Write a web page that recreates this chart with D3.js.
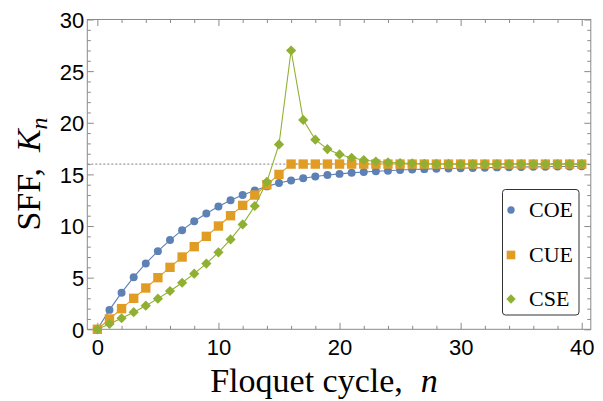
<!DOCTYPE html>
<html>
<head>
<meta charset="utf-8">
<script src="https://cdn.jsdelivr.net/npm/d3@7"></script>
<style>
  html, body { margin: 0; padding: 0; background: #fff; }
  svg { display: block; }
</style>
</head>
<body>
<svg id="chart" width="603" height="401"></svg>
<script>
// Spectral form factor K_n versus Floquet cycle n for the three circular ensembles
const cycles = d3.range(0, 41);

const coe = [0, 1.88, 3.55, 5.05, 6.38, 7.57, 8.64, 9.60, 10.46, 11.22, 11.89,
  12.49, 13.01, 13.45, 13.84, 14.16, 14.42, 14.63, 14.80, 14.94, 15.05,
  15.15, 15.23, 15.31, 15.36, 15.42, 15.47, 15.51, 15.54, 15.57, 15.60,
  15.63, 15.65, 15.68, 15.70, 15.71, 15.73, 15.74, 15.76, 15.77, 15.78];

const cue = [0, 1, 2, 3, 4, 5, 6, 7, 8, 9, 10,
  11, 12, 13, 14, 15, 16, 16, 16, 16, 16,
  16, 16, 16, 16, 16, 16, 16, 16, 16, 16,
  16, 16, 16, 16, 16, 16, 16, 16, 16, 16];

const cse = [0, 0.52, 1.07, 1.66, 2.29, 2.97, 3.71, 4.51, 5.39, 6.36, 7.45,
  8.70, 10.16, 11.94, 14.28, 17.90, 27.0, 20.28, 18.36, 17.45, 16.93,
  16.61, 16.39, 16.25, 16.16, 16.10, 16.06, 16.03, 16.01, 16.01, 16.00,
  16.00, 16.00, 16.00, 16.00, 16.00, 16.00, 16.00, 16.00, 16.00, 16.00];

const plateau = 16;

const seriesNames = ["COE", "CUE", "CSE"];
const seriesColors = ["#5E81B5", "#E19C24", "#8FB032"];
const seriesShapes = ["circle", "square", "diamond"];

const xTicks = [0, 10, 20, 30, 40];
const yTicks = [0, 5, 10, 15, 20, 25, 30];

const svg = d3.select("#chart");
const frame = { left: 87.3, right: 590.8, top: 19.5, bottom: 329.3 };

const x = d3.scaleLinear().domain([-0.83, 40.75]).range([frame.left, frame.right]);
const y = d3.scaleLinear().domain([0, 30]).range([frame.bottom, frame.top]);

const frameColor = "#8a8a8a";

// plateau reference line
svg.append("line")
  .attr("x1", frame.left).attr("x2", frame.right)
  .attr("y1", y(plateau)).attr("y2", y(plateau))
  .attr("stroke", "#9a9a9a").attr("stroke-width", 1.2)
  .attr("stroke-dasharray", "2,2");

// frame axes with inward ticks on all four sides
function frameAxis(axisFn, scale, majors, minors, transform, hideLabels) {
  const g = svg.append("g").attr("transform", transform);
  g.call(axisFn(scale).tickValues(minors).tickSize(3.5).tickFormat(""));
  g.select(".domain").remove();
  g.selectAll(".tick line").attr("stroke", frameColor);
  const g2 = svg.append("g").attr("transform", transform);
  g2.call(axisFn(scale).tickValues(majors).tickSize(6.5).tickPadding(0)
    .tickFormat(hideLabels ? "" : d3.format("d")));
  g2.select(".domain").remove();
  g2.selectAll(".tick line").attr("stroke", frameColor);
  return g2;
}

const xMinor = d3.range(0, 41, 2).filter(v => v % 10 !== 0);
const yMinor = d3.range(0, 31, 1).filter(v => v % 5 !== 0);

// bottom: ticks point up into the plot
const axisBottomG = frameAxis(s => d3.axisTop(s), x, xTicks, xMinor,
  `translate(0,${frame.bottom})`, false);
axisBottomG.selectAll(".tick text")
  .attr("y", 0).attr("dy", 0)
  .attr("transform", "translate(0,26)");
frameAxis(s => d3.axisBottom(s), x, xTicks, xMinor,
  `translate(0,${frame.top})`, true);
const axisLeftG = frameAxis(s => d3.axisRight(s), y, yTicks, yMinor,
  `translate(${frame.left},0)`, false);
axisLeftG.selectAll(".tick text")
  .attr("x", -3).attr("dy", "0.36em")
  .attr("text-anchor", "end");
frameAxis(s => d3.axisLeft(s), y, yTicks, yMinor,
  `translate(${frame.right},0)`, true);

svg.selectAll(".tick text")
  .attr("fill", "#000")
  .style("font-family", "'Liberation Sans', Arial, sans-serif")
  .style("font-size", "22px");

svg.append("rect")
  .attr("x", frame.left).attr("y", frame.top)
  .attr("width", frame.right - frame.left)
  .attr("height", frame.bottom - frame.top)
  .attr("fill", "none").attr("stroke", frameColor).attr("stroke-width", 1);

// series
const allSeries = [coe, cue, cse];
// square rotated by 45 degrees, equal width and height
const symbolRhombus = {
  draw(ctx, size) {
    const r = Math.sqrt(size / 2);
    ctx.moveTo(0, -r);
    ctx.lineTo(r, 0);
    ctx.lineTo(0, r);
    ctx.lineTo(-r, 0);
    ctx.closePath();
  }
};
const symbolType = {
  circle: d3.symbolCircle,
  square: d3.symbolSquare,
  diamond: symbolRhombus
};
const symbolSize = { circle: 50, square: 88, diamond: 52 };

const line = d3.line().x((d, i) => x(cycles[i])).y(d => y(d));

allSeries.forEach((vals, k) => {
  const g = svg.append("g");
  g.append("path")
    .attr("d", line(vals))
    .attr("fill", "none")
    .attr("stroke", seriesColors[k])
    .attr("stroke-width", 1.1);
  const sym = d3.symbol().type(symbolType[seriesShapes[k]]).size(symbolSize[seriesShapes[k]]);
  g.selectAll("path.pt").data(vals).join("path")
    .attr("class", "pt")
    .attr("d", sym)
    .attr("transform", (d, i) => `translate(${x(cycles[i])},${y(d)})`)
    .attr("fill", seriesColors[k]);
});

// legend
const legend = svg.append("g");
legend.append("rect")
  .attr("x", 502.5).attr("y", 189.5).attr("width", 76.5).attr("height", 125.5)
  .attr("rx", 3).attr("fill", "#fff").attr("stroke", "#333").attr("stroke-width", 1);
const legendY = [210, 255, 299];
seriesNames.forEach((name, k) => {
  const sym = d3.symbol().type(symbolType[seriesShapes[k]]).size(symbolSize[seriesShapes[k]] * 0.85);
  legend.append("path")
    .attr("d", sym)
    .attr("transform", `translate(511,${legendY[k]})`)
    .attr("fill", seriesColors[k]);
  legend.append("text")
    .attr("x", 529).attr("y", legendY[k] + 6.5)
    .style("font-family", "'Liberation Serif', 'Times New Roman', serif")
    .style("font-size", "22px")
    .attr("fill", "#000")
    .text(name);
});

// axis titles
const xTitle = svg.append("text")
  .attr("x", 324).attr("y", 392)
  .attr("text-anchor", "middle")
  .style("font-family", "'Liberation Serif', 'Times New Roman', serif")
  .style("font-size", "34px")
  .attr("fill", "#000");
xTitle.append("tspan").text("Floquet cycle,");
xTitle.append("tspan").attr("dx", 18).style("font-style", "italic").text("n");

const yTitle = svg.append("text")
  .attr("transform", "translate(40,174) rotate(-90)")
  .attr("text-anchor", "middle")
  .style("font-family", "'Liberation Serif', 'Times New Roman', serif")
  .style("font-size", "34px")
  .attr("fill", "#000");
yTitle.append("tspan").text("SFF,");
yTitle.append("tspan").attr("dx", 16).style("font-style", "italic").text("K");
yTitle.append("tspan").attr("dy", 7).style("font-style", "italic").style("font-size", "24px").text("n");
</script>
</body>
</html>
